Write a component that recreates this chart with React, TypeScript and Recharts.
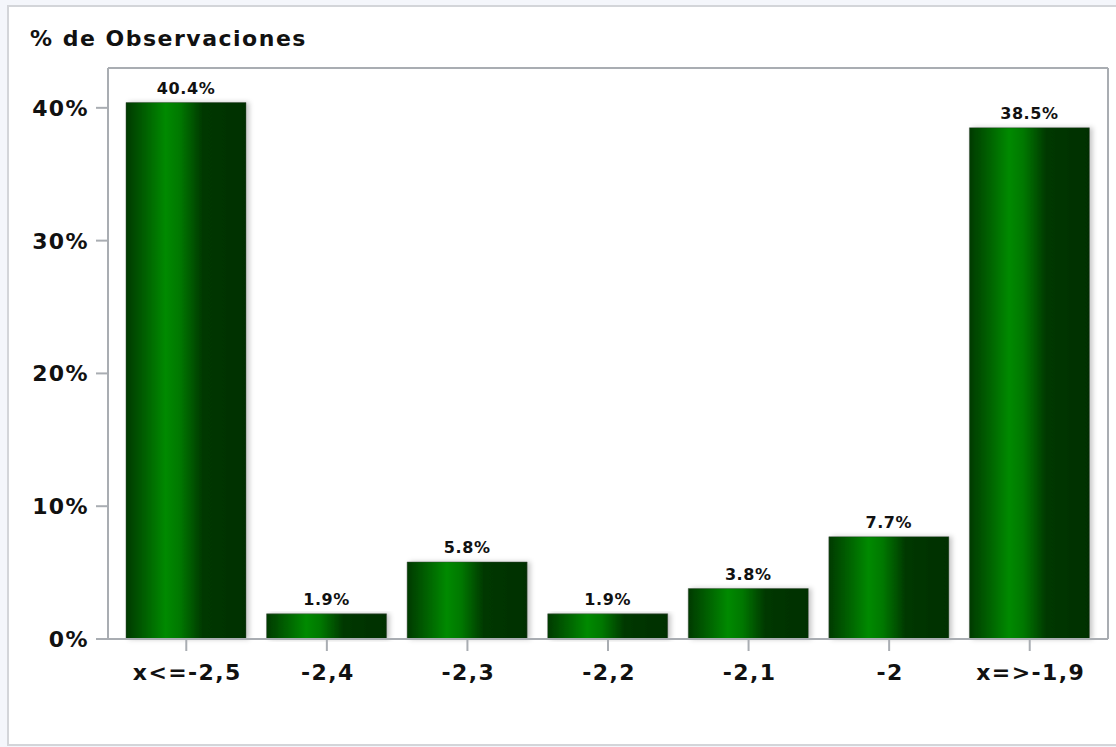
import React from 'react';
import { BarChart, Bar, XAxis, YAxis, LabelList } from 'recharts';

const categories = ['x<=-2,5', '-2,4', '-2,3', '-2,2', '-2,1', '-2', 'x=>-1,9'];
const percentages = [40.4, 1.9, 5.8, 1.9, 3.8, 7.7, 38.5];
const yTicks = [0, 10, 20, 30, 40];

const FONT = '"DejaVu Sans", Verdana, sans-serif';
const AXIS = '#a9adb2';

const data = categories.map((name, i) => ({ name, value: percentages[i] }));

const YTick = (props: any) => {
  const { x, y, payload } = props;
  return (
    <text x={x} y={y} dy={8} textAnchor="end" fontFamily={FONT} fontWeight="bold" fontSize={22} letterSpacing={1.4} fill="#111">
      {payload.value}%
    </text>
  );
};

const XTick = (props: any) => {
  const { x, y, payload } = props;
  return (
    <text x={x + 1} y={y} dy={29} textAnchor="middle" fontFamily={FONT} fontWeight="bold" fontSize={22} letterSpacing={1.4} fill="#111">
      {payload.value}
    </text>
  );
};

const ValueLabel = (props: any) => {
  const { x, y, width, value } = props;
  return (
    <text x={x + width / 2} y={y - 9} textAnchor="middle" fontFamily={FONT} fontWeight="bold" fontSize={16} letterSpacing={0.6} fill="#111">
      {value.toFixed(1)}%
    </text>
  );
};

const App: React.FC = () => {
  return (
    <div style={{ position: 'absolute', left: 0, top: 0, width: 1116, height: 747, background: '#f4f6fb', overflow: 'hidden' }}>
      <div style={{ position: 'absolute', left: 7, top: 5, width: 1120, height: 737, background: '#fff', border: '2px solid #d3d5d9' }} />
      <div style={{ position: 'absolute', left: 30, top: 28, fontFamily: FONT, fontWeight: 'bold', fontSize: 22, lineHeight: '22px', letterSpacing: 1.5, color: '#111', whiteSpace: 'nowrap' }}>
        % de Observaciones
      </div>
      <div style={{ position: 'absolute', left: 0, top: 0 }}>
        <BarChart width={1116} height={747} data={data} margin={{ top: 67, right: 7, bottom: 48, left: 0 }}>
          <defs>
            <linearGradient id="barGreen" x1="0" y1="0" x2="1" y2="0">
              <stop offset="0%" stopColor="#003a00" />
              <stop offset="20%" stopColor="#006a00" />
              <stop offset="33%" stopColor="#008a00" />
              <stop offset="45%" stopColor="#007800" />
              <stop offset="64%" stopColor="#003800" />
              <stop offset="100%" stopColor="#002f00" />
            </linearGradient>
            <filter id="barShadow" x="-10%" y="-10%" width="130%" height="120%">
              <feDropShadow dx="3" dy="0" stdDeviation="2.5" floodColor="#000" floodOpacity="0.22" />
            </filter>
          </defs>
          <XAxis
            dataKey="name"
            height={60}
            padding={{ left: 8, right: 8 }}
            axisLine={{ stroke: AXIS, strokeWidth: 2 }}
            tickLine={{ stroke: AXIS, strokeWidth: 2 }}
            tickSize={12}
            tickMargin={0}
            tick={<XTick />}
            interval={0}
          />
          <XAxis
            xAxisId="top"
            dataKey="name"
            orientation="top"
            height={1}
            axisLine={{ stroke: AXIS, strokeWidth: 2 }}
            tickLine={false}
            tick={false}
          />
          <YAxis
            width={108}
            domain={[0, 43]}
            ticks={yTicks}
            axisLine={{ stroke: AXIS, strokeWidth: 2 }}
            tickLine={{ stroke: AXIS, strokeWidth: 2 }}
            tickSize={12}
            tickMargin={7}
            tick={<YTick />}
          />
          <YAxis
            yAxisId="r"
            orientation="right"
            width={1}
            domain={[0, 43]}
            axisLine={{ stroke: AXIS, strokeWidth: 2 }}
            tickLine={false}
            tick={false}
          />
          <Bar
            dataKey="value"
            barSize={120}
            fill="url(#barGreen)"
            stroke="rgba(60,70,60,0.45)"
            strokeWidth={1}
            filter="url(#barShadow)"
            isAnimationActive={false}
          >
            <LabelList dataKey="value" content={<ValueLabel />} />
          </Bar>
        </BarChart>
      </div>
    </div>
  );
};

export default App;
